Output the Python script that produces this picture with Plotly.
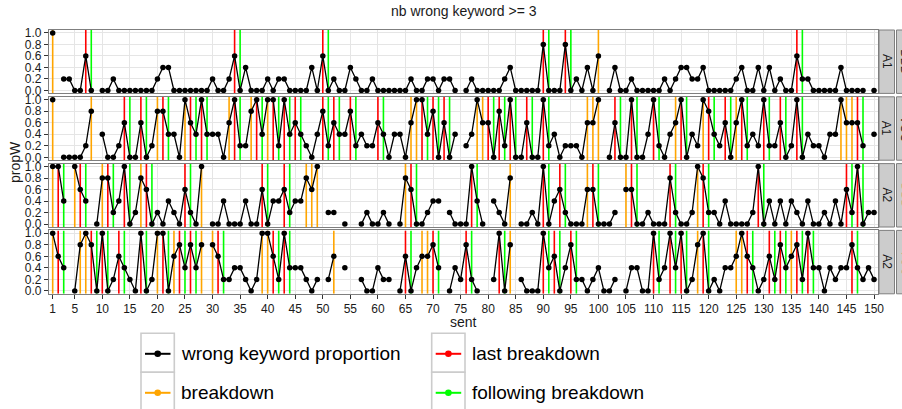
import plotly.graph_objects as go

N = None
sent = list(range(1, 151))
x_ticks = [1] + list(range(5, 151, 5))
y_ticks = [0.0, 0.2, 0.4, 0.6, 0.8, 1.0]
y_ticktext = ["0.0", "0.2", "0.4", "0.6", "0.8", "1.0"]

row_labels = ["A1", "A1", "A2", "A2"]
col_labels = ["DBD", "VOC", "DBD", "VOC"]

propW_A1_DBD = [
    1.0, N, 0.2, 0.2, 0, 0, 0.6, 0, N, 0,
    0, 0.2, 0, 0, 0, 0, 0, 0, 0, 0.2,
    0.4, 0.4, 0, 0, 0, 0, 0, 0, 0, 0.2,
    0, 0, 0.2, 0.6, 0, 0.4, 0, 0, 0, 0.2,
    0, 0.2, 0.2, 0, 0, 0, 0, 0.4, 0, 0.6,
    0, 0.2, 0, 0, 0.4, 0.2, 0, 0, 0.2, 0,
    0, 0, 0, 0, 0, 0.2, 0, 0, 0.2, 0.2,
    0, 0.2, 0.2, 0, N, 0, 0.2, 0, 0, 0,
    0, 0, 0.2, 0.4, 0, 0, 0, 0, 0, 0.8,
    0, 0, 0, 0.8, 0, 0.2, 0, 0.4, 0, 0.6,
    N, 0, 0.4, 0, 0, 0.2, 0, 0, 0, 0,
    0, 0.2, 0, 0.2, 0.4, 0.4, 0.2, 0.2, 0.4, 0,
    0, 0, 0, 0, 0.2, 0.4, 0, 0, 0.4, 0,
    0.4, 0, 0.2, 0, 0, 0.6, 0.2, 0.2, 0, 0,
    0, 0, 0, 0.4, 0, 0, 0, 0, N, 0,
]
propW_A1_VOC = [
    1.0, N, 0, 0, 0, 0, 0.2, 0.8, N, 0.4,
    0, 0, 0.2, 0.6, 0, 0, 0.6, 0, 0.2, 0.8,
    0.8, 0.4, 0.4, 0, 1.0, 0.6, 0.4, 1.0, 0.4, 0.4,
    0.4, 0, 0.6, 1.0, 0.2, 0.2, 0.8, 1.0, 0.4, 1.0,
    1.0, 0.2, 1.0, 0.4, 0.6, 0.4, 0.2, 0, 0.4, 0.8,
    0.2, 0.6, 0.4, 0.4, 0.8, 0.2, 0.4, 0.2, 0.2, 0.6,
    0.4, 0, 0.4, 0.4, 0, 0.6, 1.0, 1.0, 0.4, 0.8,
    0, 0.6, 0, 0.4, N, 0.2, 0.4, 1.0, 0.6, 0.6,
    0, 0.8, 0.2, 1.0, 0, 0, 0.6, 0, 0, 1.0,
    0.2, 0.4, 0, 0.2, 0.2, 0.2, 0, 0.6, 0.6, 1.0,
    N, 0, 0.6, 0, 0, 1.0, 0, 0, 0.4, 1.0,
    0.2, 0, 0.4, 0.6, 1.0, 0, 0.4, 0.2, 1.0, 0.8,
    0.4, 0.2, 0.6, 0, 0.6, 1.0, 0.2, 0.4, 0.2, 1.0,
    0.2, 0.2, 0.6, 0, 0.2, 1.0, 0, 0.4, 0.2, 0.2,
    0, 0.4, 0.4, 1.0, 0.6, 0.6, 0.6, 0.2, N, 0.4,
]
propW_A2_DBD = [
    1.0, 1.0, 0.4, N, 1.0, 0.6, 0.4, N, 0, 0.8,
    0.8, 0.2, 0.4, 1.0, 0, 0.2, 0.8, 0.6, 0, 0.2,
    0, 0.4, 0.2, 0, 0.6, 0.2, 0, 1.0, N, 0,
    0, 0.4, 0, 0, 0, 0.4, 0, 0, 0.6, 0,
    0.4, 0.4, 0.6, 0.2, 0.4, 0.4, 0.8, 0.6, 1.0, N,
    0.2, 0.2, N, 0, N, N, 0, 0.2, 0, 0,
    0.2, 0, N, 0, 0.8, 0.6, 0, 0, 0.2, 0.4,
    0.4, N, 0.2, 0, 0, 0, 1.0, 0.4, 0, N,
    0.4, 0.2, 0, 0.8, N, 0, 0, 0.2, 0, 1.0,
    0, 0.4, 0.6, 0.2, 0, 0, 0, 0.6, 0.6, 0,
    0, 0, 0.2, N, 0.6, 0.6, 0, 0, 0.2, 0,
    0, 0, 0.8, 0.2, 0, 0, 0.2, 1.0, 0.8, 0.2,
    0.2, 0, 0.4, 0, 0, 0, 0, 0.2, 1.0, 0,
    0.4, 0, 0.4, 0, 0.4, 0.2, 0, 0.4, 0, 0,
    0.2, 0, 0.4, 0, 0.6, 0.2, 1.0, 0, 0.2, 0.2,
]
propW_A2_VOC = [
    1.0, 0.6, 0.4, N, 0, 0.8, 1.0, 0.8, 0, 1.0,
    0, 0.2, 0.6, 0.4, 0.2, 0, 1.0, 0, 0.2, 1.0,
    1.0, 0, 0.6, 0.8, 0.4, 0.8, 0.4, 0.8, N, 0.8,
    0.6, 0.2, 0.2, 0.4, 0.4, 0.2, 0, 0.2, 1.0, 1.0,
    0.6, 0.2, 1.0, 0.4, 0.4, 0.4, 0.2, 0, 0.2, N,
    0.2, 0.6, N, 0.4, N, N, 0.2, 0, 0, 0.4,
    0.2, 0.2, N, 0, 0.6, 0, 0.4, 0.6, 0.6, 0.8,
    0.4, N, 0, 0.4, 0.2, 0.8, 0.2, 0, N, N,
    0.2, 1.0, 0, 0.8, N, 0.2, 0, 0, 0, 1.0,
    0.4, 0.6, 0, 0.4, 0.8, 0.2, 0.2, 0, 0.2, 0.4,
    0, 0, 0.2, N, 0, 0.4, 0.4, 0, 0, 1.0,
    0.2, 0.4, 1.0, 0.4, 1.0, 0, 0.2, 0.8, 1.0, 0,
    0.2, 0, 0.4, 0.4, 0.6, 1.0, 0.6, 0.4, 0, 0.2,
    0.6, 0.2, 0.8, 0.4, 0.6, 0.8, 0.2, 1.0, 0.4, 0.4,
    0, 0.4, 0.2, 0.4, 0.4, 0.8, 0.4, 0.2, 0.4, 0.2,
]

breakdown = [
    [1, 100],
    [1, 8, 20, 25, 33, 37, 40, 66, 67, 78, 79, 98, 99, 100, 114, 119, 125, 144, 145, 146],
    [1, 5, 10, 17, 28, 47, 48, 49, 65, 84, 98, 105, 118],
    [1, 6, 7, 20, 23, 28, 30, 39, 40, 52, 68, 69, 84, 118, 125, 126, 135],
]
last_breakdown = [
    [7, 34, 50, 90, 94, 136],
    [14, 17, 21, 26, 28, 34, 38, 41, 43, 45, 50, 52, 55, 60, 68, 70, 72, 80, 82, 84, 87, 90,
     103, 106, 110, 115, 120, 123, 126, 130, 133, 136, 147],
    [2, 6, 11, 14, 18, 25, 39, 43, 66, 77, 90, 93, 99, 106, 113, 119, 129, 145, 147],
    [2, 8, 10, 13, 17, 21, 24, 26, 31, 41, 43, 65, 70, 76, 82, 90, 92, 95, 110, 113, 115,
     119, 127, 131, 133, 136, 138, 146],
]
following_breakdown = [
    [8, 35, 51, 91, 95, 137],
    [15, 18, 22, 27, 29, 35, 39, 42, 44, 46, 51, 53, 56, 61, 69, 71, 73, 81, 83, 85, 88, 91,
     104, 107, 111, 116, 121, 124, 127, 131, 134, 137, 148],
    [3, 7, 12, 15, 19, 26, 40, 44, 67, 78, 91, 94, 100, 107, 114, 120, 130, 146, 148],
    [3, 9, 11, 14, 18, 22, 25, 27, 32, 42, 44, 66, 71, 77, 83, 91, 93, 96, 111, 114, 116,
     120, 128, 132, 134, 137, 139, 147],
]
panels = [propW_A1_DBD, propW_A1_VOC, propW_A2_DBD, propW_A2_VOC]

legend_names = ["wrong keyword proportion", "breakdown", "last breakdown", "following breakdown"]
colors = {"wrong keyword proportion": "#000000", "breakdown": "#FFA500",
          "last breakdown": "#FF0000", "following breakdown": "#00FF00"}

# ---------------- layout geometry (pixels) ----------------
W, H = 902, 409
ML, MR, MT, MB = 49, 24, 30, 115
PW = W - ML - MR
PH = H - MT - MB
PANEL_H = 63.4
PANEL_STEP = 66.8
FONT = "Liberation Sans, Arial, Helvetica, sans-serif"
TXT = "#1a1a1a"
Y_LO, Y_HI = -0.05, 1.05


def px2x(px):
    return (px - ML) / PW


def py2y(py):
    return (H - MB - py) / PH


fig = go.Figure()
layout = dict(
    width=W, height=H,
    margin=dict(l=ML, r=MR, t=MT, b=MB, pad=0),
    paper_bgcolor="white", plot_bgcolor="white",
    showlegend=False,
    font=dict(family=FONT, color=TXT),
)
shapes = []
annotations = []

for i, vals in enumerate(panels):
    k = "" if i == 0 else str(i + 1)
    top = MT + i * PANEL_STEP
    bot = top + PANEL_H
    dom = [py2y(bot), py2y(top)]
    # vertical breakdown lines (drawn through the axis scale, under the data)
    for name, lst in (("breakdown", breakdown[i]), ("last breakdown", last_breakdown[i]),
                      ("following breakdown", following_breakdown[i])):
        xs, ys = [], []
        for s in lst:
            xs += [s, s, None]
            ys += [Y_LO, Y_HI, None]
        fig.add_trace(go.Scatter(
            x=xs, y=ys, mode="lines", line=dict(color=colors[name], width=1.6),
            xaxis="x" + k, yaxis="y" + k, hoverinfo="skip", name=name,
        ))
    fig.add_trace(go.Scatter(
        x=sent, y=vals, mode="lines+markers", connectgaps=False,
        line=dict(color="black", width=1.3),
        marker=dict(color="black", size=5.5),
        xaxis="x" + k, yaxis="y" + k, hoverinfo="x+y", name="wrong keyword proportion",
    ))
    layout["xaxis" + k] = dict(
        anchor="y" + k, domain=[0, 1], range=[0.33, 150.72],
        tickvals=x_ticks, showticklabels=(i == 3),
        ticks="outside" if i == 3 else "", ticklen=4, tickcolor="#333333",
        tickfont=dict(size=12, color=TXT),
        showgrid=True, gridcolor="#E5E5E5", gridwidth=1, zeroline=False,
        showline=True, mirror=True, linecolor="#7F7F7F", linewidth=1.3,
        matches=None if i == 0 else "x",
    )
    layout["yaxis" + k] = dict(
        anchor="x" + k, domain=dom, range=[Y_LO, Y_HI],
        tickvals=y_ticks, ticktext=y_ticktext,
        ticks="outside", ticklen=4, tickcolor="#333333",
        tickfont=dict(size=12, color=TXT),
        showgrid=True, gridcolor="#E5E5E5", gridwidth=1, zeroline=False,
        showline=True, mirror=True, linecolor="#7F7F7F", linewidth=1.3,
    )
    # facet strips
    shapes.append(dict(type="rect", xref="paper", yref="paper",
                       x0=px2x(879), x1=px2x(894.5), y0=dom[0], y1=dom[1],
                       fillcolor="#CCCCCC", line=dict(color="#7F7F7F", width=1)))
    shapes.append(dict(type="rect", xref="paper", yref="paper",
                       x0=px2x(896.5), x1=px2x(914), y0=dom[0], y1=dom[1],
                       fillcolor="#CCCCCC", line=dict(color="#7F7F7F", width=1)))
    ymid = (dom[0] + dom[1]) / 2
    annotations.append(dict(text=row_labels[i], xref="paper", yref="paper",
                            x=px2x(886.8), y=ymid, showarrow=False, textangle=90,
                            font=dict(size=12, color=TXT), xanchor="center", yanchor="middle"))
    annotations.append(dict(text=col_labels[i], xref="paper", yref="paper",
                            x=px2x(905.5), y=ymid, showarrow=False, textangle=90,
                            font=dict(size=12, color=TXT), xanchor="center", yanchor="middle"))

# titles
annotations.append(dict(text="nb wrong keyword >= 3", xref="paper", yref="paper",
                        x=px2x(463.5), y=py2y(11), showarrow=False,
                        font=dict(size=14, color=TXT), xanchor="center", yanchor="middle"))
annotations.append(dict(text="sent", xref="paper", yref="paper",
                        x=px2x(463.5), y=py2y(322), showarrow=False,
                        font=dict(size=14, color=TXT), xanchor="center", yanchor="middle"))
annotations.append(dict(text="propW", xref="paper", yref="paper",
                        x=px2x(15), y=py2y(162), showarrow=False, textangle=-90,
                        font=dict(size=14, color=TXT), xanchor="center", yanchor="middle"))

# custom legend (2 columns, grey key boxes)
key_pos = {
    "wrong keyword proportion": (141, 333.3),
    "breakdown": (141, 372.3),
    "last breakdown": (431.7, 333.3),
    "following breakdown": (431.7, 372.3),
}
KW, KH = 33.3, 39
for name in legend_names:
    bx, by = key_pos[name]
    shapes.append(dict(type="rect", xref="paper", yref="paper",
                       x0=px2x(bx), x1=px2x(bx + KW), y0=py2y(by + KH), y1=py2y(by),
                       fillcolor="white", line=dict(color="#CCCCCC", width=1.6)))
    cy = by + 20.5
    shapes.append(dict(type="line", xref="paper", yref="paper",
                       x0=px2x(bx + 4), x1=px2x(bx + 29.5), y0=py2y(cy), y1=py2y(cy),
                       line=dict(color=colors[name], width=2)))
    cx = bx + 16.7
    r = 3.3
    shapes.append(dict(type="circle", xref="paper", yref="paper",
                       x0=px2x(cx - r), x1=px2x(cx + r), y0=py2y(cy + r), y1=py2y(cy - r),
                       fillcolor=colors[name], line=dict(color=colors[name], width=0)))
    annotations.append(dict(text=name, xref="paper", yref="paper",
                            x=px2x(bx + 38), y=py2y(cy), showarrow=False,
                            font=dict(size=19, color="#000000"),
                            xanchor="left", yanchor="middle"))

layout["shapes"] = shapes
layout["annotations"] = annotations
fig.update_layout(**layout)
fig.write_html("out.html")
